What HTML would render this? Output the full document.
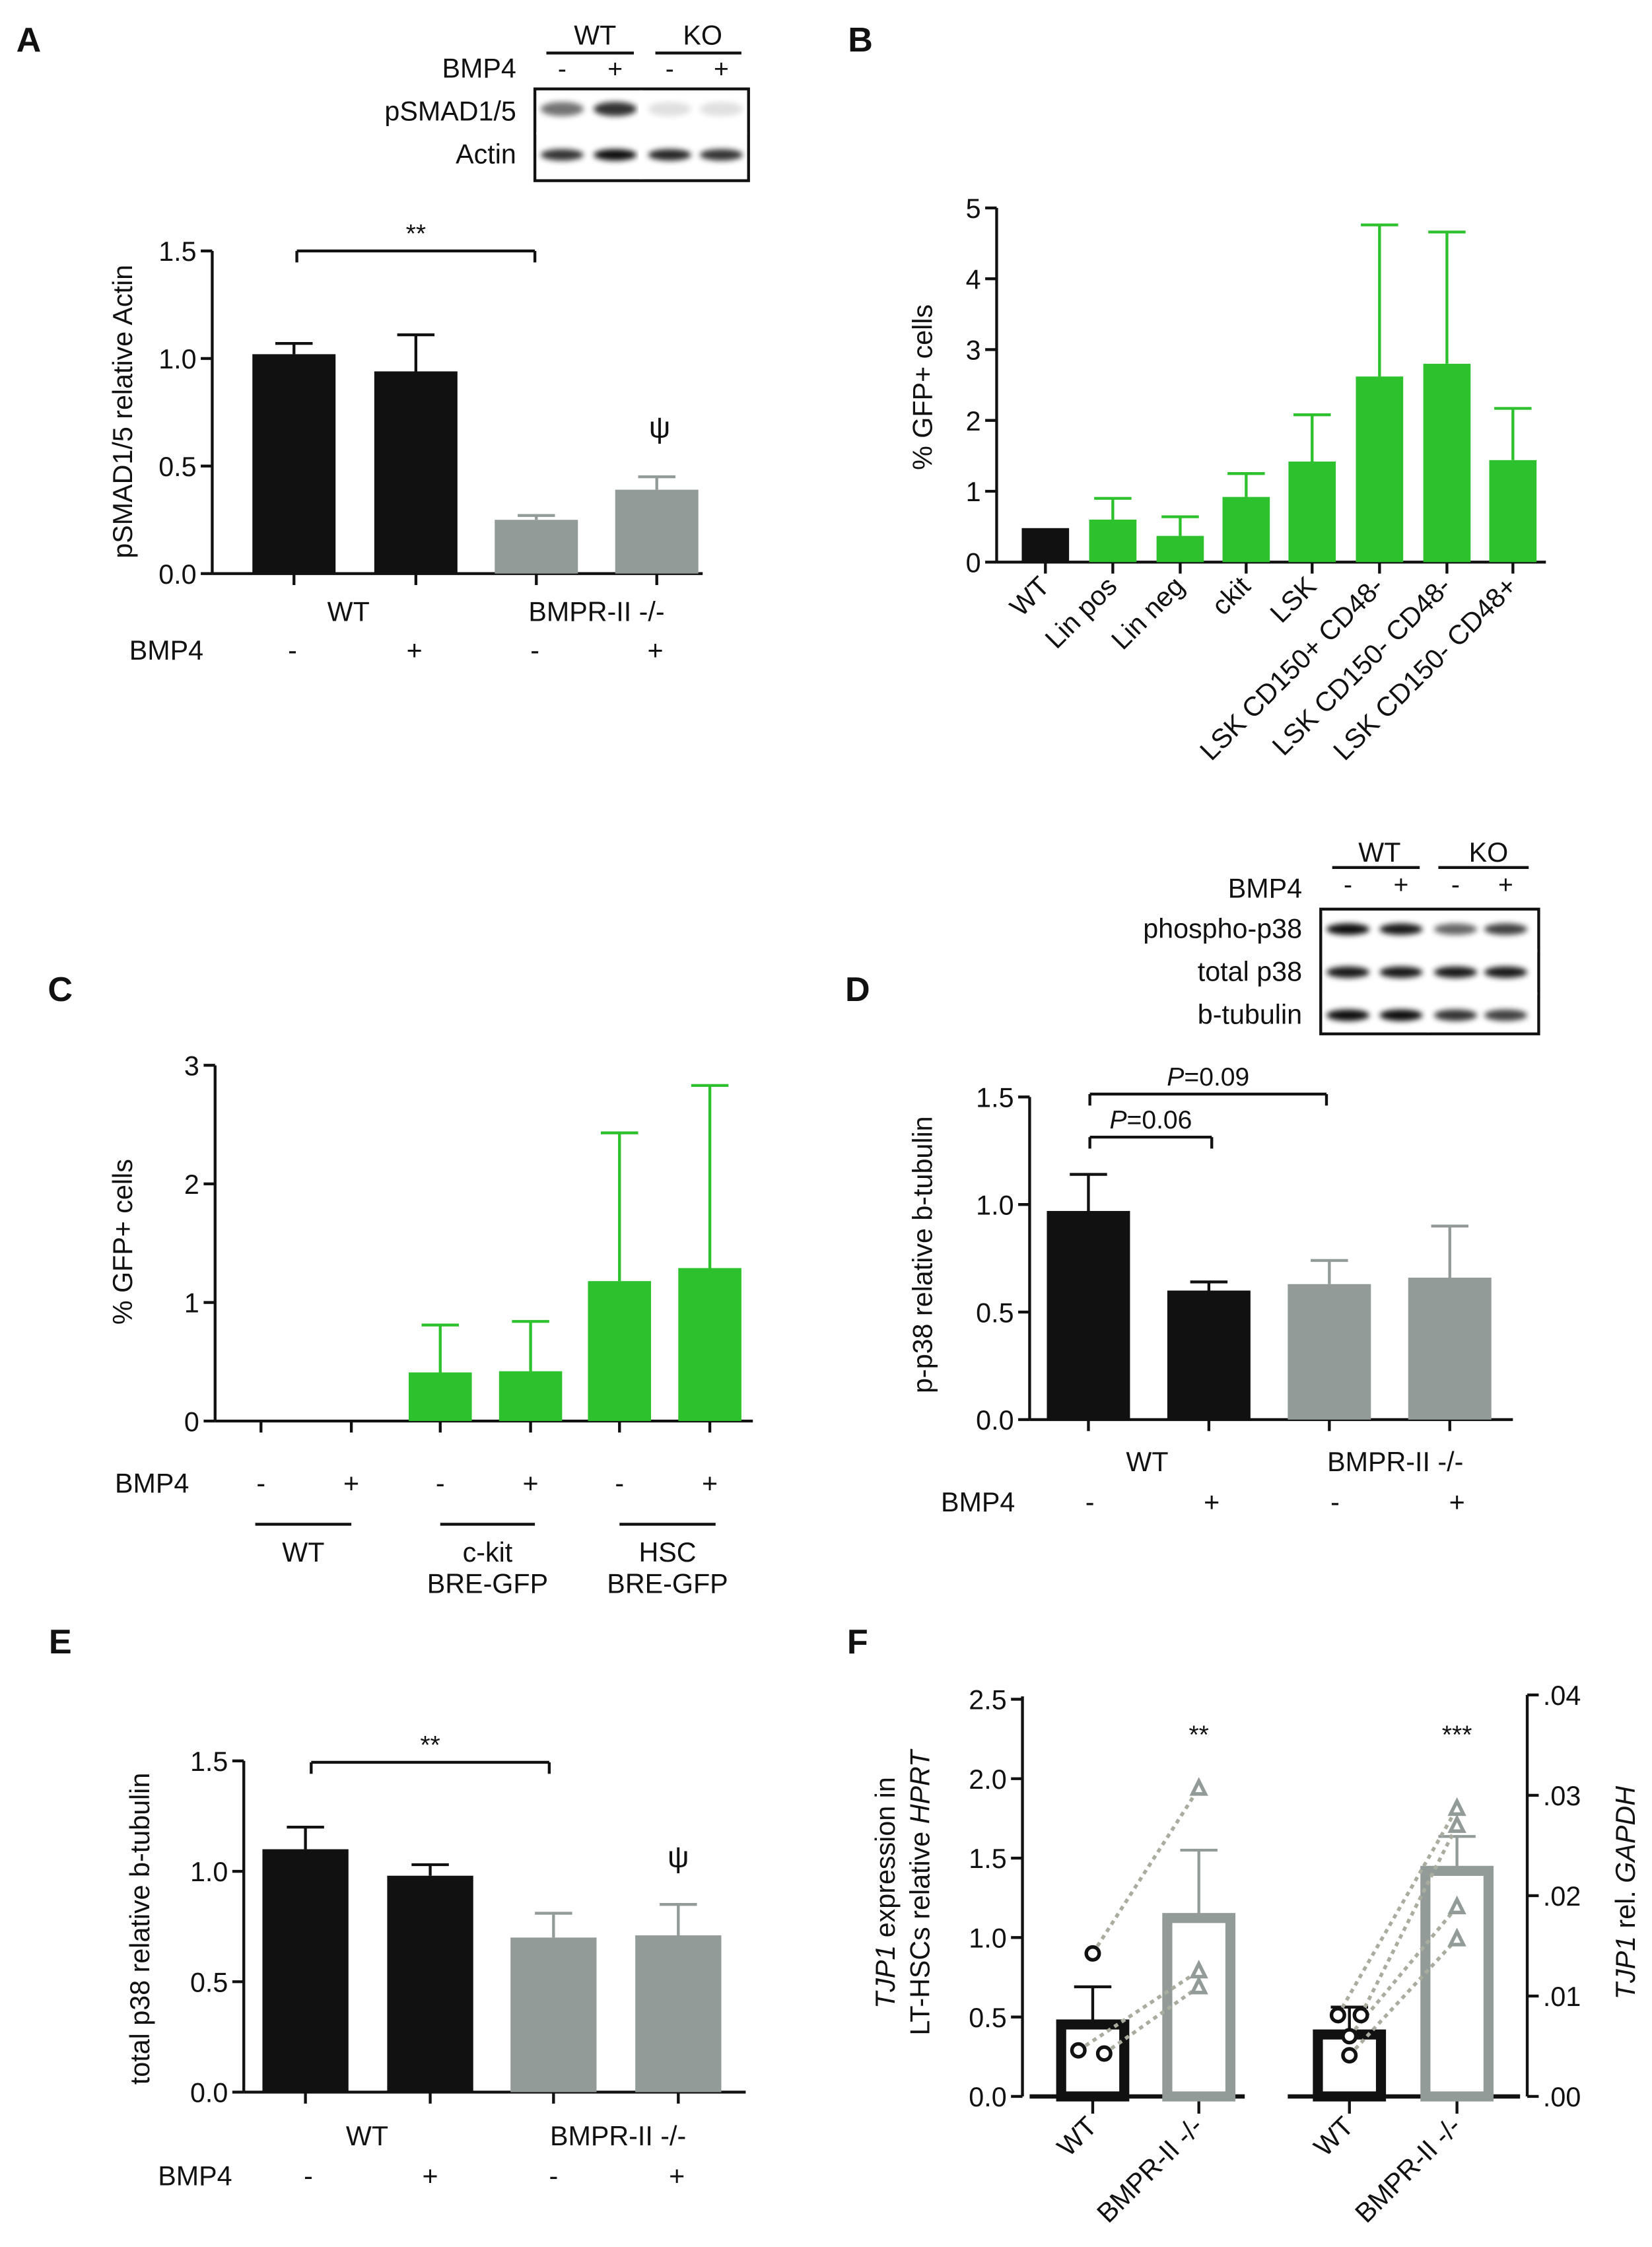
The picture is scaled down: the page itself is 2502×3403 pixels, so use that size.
<!DOCTYPE html>
<html><head><meta charset="utf-8"><style>
html,body{margin:0;padding:0;background:#fff}
svg{display:block}
text{font-family:"Liberation Sans Narrow","Liberation Sans",sans-serif;fill:#111}
</style></head><body>
<svg id="fig" width="2502" height="3403" viewBox="0 0 1152 1567" preserveAspectRatio="none" xmlns="http://www.w3.org/2000/svg">
<defs><filter id="blur" x="-50%" y="-50%" width="200%" height="200%"><feGaussianBlur stdDeviation="2"/></filter></defs>
</svg>
<script>
// ---- data ----
const aCats=["WT -","WT +","KO -","KO +"];
const aVals=[1.02,0.94,0.25,0.39];
const aErr=[1.07,1.11,0.27,0.45];
const aTicks=[0,0.5,1.0,1.5];
const bCats=["WT","Lin pos","Lin neg","ckit","LSK","LSK CD150+ CD48-","LSK CD150- CD48-","LSK CD150- CD48+"];
const bVals=[0.48,0.6,0.37,0.92,1.42,2.62,2.8,1.44];
const bErr=[0.48,0.9,0.64,1.25,2.08,4.76,4.66,2.17];
const bTicks=[0,1,2,3,4,5];
const cVals=[0,0,0.41,0.42,1.18,1.29];
const cErr=[0,0,0.81,0.84,2.43,2.83];
const cTicks=[0,1,2,3];
const dVals=[0.97,0.6,0.63,0.66];
const dErr=[1.14,0.64,0.74,0.9];
const dTicks=[0,0.5,1.0,1.5];
const eVals=[1.1,0.98,0.7,0.71];
const eErr=[1.2,1.03,0.81,0.85];
const eTicks=[0,0.5,1.0,1.5];
const fLeftTicks=[0,0.5,1.0,1.5,2.0,2.5];
const fRightTicks=[0,0.01,0.02,0.03,0.04];
const fRightLabels=[".00",".01",".02",".03",".04"];
const fHprtBars=[0.48,1.15];
const fHprtErr=[0.69,1.55];
const fHprtWT=[0.9,0.29,0.27];
const fHprtKO=[1.94,0.79,0.69];
const fGapdhBars=[0.0066,0.0229];
const fGapdhErr=[0.0089,0.0259];
const fGapdhWT=[0.0081,0.0081,0.006,0.0041];
const fGapdhKO=[0.0287,0.027,0.0189,0.0157];

const svg=document.getElementById('fig');
const NS="http://www.w3.org/2000/svg";
function el(tag,attrs,parent){const e=document.createElementNS(NS,tag);for(const k in attrs)e.setAttribute(k,attrs[k]);(parent||svg).appendChild(e);return e;}
function txt(x,y,s,size,anchor,parent,extra){const t=el('text',Object.assign({x:x,y:y,'font-size':size||18,'text-anchor':anchor||'middle'},extra||{}),parent);t.textContent=s;return t;}
function line(x1,y1,x2,y2,w,col,parent){return el('line',{x1,y1,x2,y2,stroke:col||'#111','stroke-width':w||2},parent);}
const BLACK='#111',GRAY='#939b98',GREEN='#2dc22d';

function yAxis(g,x,y0,y1,ticks,scale,fmt,labelSide){
  line(x,y0,x,y1,2,BLACK,g);
  ticks.forEach((t,i)=>{const y=scale(t);
    if(labelSide==='right'){line(x,y,x+8,y,2,BLACK,g);txt(x+11,y+7,fmt(t,i),19,'start',g);}
    else{line(x-8,y,x,y,2,BLACK,g);txt(x-11,y+7,fmt(t,i),19,'end',g);}
  });
}
function bar(g,cx,w,v,e,scale,col,name){
  const y0=scale(0),y=scale(v);
  if(e>v){line(cx,y,cx,scale(e),2,col,g);line(cx-13,scale(e),cx+13,scale(e),2,col,g);}
  const r=el('rect',{x:cx-w/2,y:y,width:w,height:Math.max(0,y0-y),fill:col},g);
  
  
}
function group(name){const g=el('g',{});return g;}
function panelLabel(x,y,s){const t=txt(x,y,s,24,'middle',svg,{'font-weight':'bold',fill:'#555'});}
function rotText(x,y,s,g,name,size){const t=txt(x,y,s,size||19,'middle',g,{transform:`rotate(-90 ${x} ${y})`});return t;}
function bracket(g,x1,x2,y,label,italic){line(x1,y+8,x1,y,2,BLACK,g);line(x1,y,x2,y,2,BLACK,g);line(x2,y,x2,y+8,2,BLACK,g);
  const t=txt((x1+x2)/2,y-6,label,18,'middle',g);if(italic){t.textContent='';const a=el('tspan',{'font-style':'italic'},t);a.textContent='P';const b=el('tspan',{},t);b.textContent=label.slice(1);}}
function blot(g,x0,y0,w,h,rows,lanes){
  el('rect',{x:x0,y:y0,width:w,height:h,fill:'#fff',stroke:BLACK,'stroke-width':2},g);
  rows.forEach(r=>{lanes.forEach((lx,i)=>{const inten=r.int[i];
    el('ellipse',{cx:lx,cy:r.y,rx:15,ry:r.ry||4,fill:`rgba(0,0,0,${inten})`,filter:'url(#blur)'},g);});});
}

// ===== Panel A =====
panelLabel(20,36,'A');
(function(){
 const g=group('panel-a-chart');
 const sc=v=>400-v*150;
 const cx=[205,290,374,458];
 yAxis(g,148,400,175,aTicks,sc,t=>t.toFixed(1));
 line(148,400,490,400,2,BLACK,g);
 cx.forEach(x=>line(x,400,x,408,2,BLACK,g));
 aVals.forEach((v,i)=>bar(g,cx[i],58,v,aErr[i],sc,i<2?BLACK:GRAY,'bar-a-'+i));
 bracket(g,207,373,175,'**');
 txt(460,305,'ψ',21,'middle',g);
 txt(243,433,'WT',19,'middle',g);txt(416,433,'BMPR-II -/-',19,'middle',g);
 txt(116,460,'BMP4',19,'middle',g);
 ['-','+','-','+'].forEach((s,i)=>txt(cx[i]-1,460,s,19,'middle',g));
 rotText(92,287,'pSMAD1/5 relative Actin',g,'y-axis-title-a');
 const b=group('blot-a');
 txt(360,54,'BMP4',19,'end',b);txt(360,84,'pSMAD1/5',19,'end',b);txt(360,114,'Actin',19,'end',b);
 txt(415,31,'WT',19,'middle',b);line(381,37,442,37,2,BLACK,b);
 txt(490,31,'KO',19,'middle',b);line(457,37,517,37,2,BLACK,b);
 [392,429,467,503].forEach((x,i)=>txt(x,54,i%2?'+':'-',18,'middle',b));
 blot(b,373,62,149,64,[{y:76,ry:5,int:[0.55,0.8,0.12,0.12]},{y:108,ry:4,int:[0.8,0.95,0.85,0.8]}],[392,429,467,503]);
 line(447,63,447,125,3,'#fff',b);line(374,93,521,93,2,'#fff',b);
})();

// ===== Panel B =====
panelLabel(600,36,'B');
(function(){
 const g=group('panel-b-chart');
 const sc=v=>392-v*49.4;
 const cx=[729,776,823,869,915,962,1009,1055];
 yAxis(g,695,392,145,bTicks,sc,t=>String(t));
 line(695,392,1078,392,2,BLACK,g);
 cx.forEach(x=>line(x,392,x,400,2,BLACK,g));
 bVals.forEach((v,i)=>bar(g,cx[i],33,v,bErr[i],sc,i===0?BLACK:GREEN,'bar-b-'+i));
 bCats.forEach((c,i)=>{txt(cx[i]+4,410,c,19,'end',g,{transform:`rotate(-45 ${cx[i]+4} 410)`});});
 rotText(650,270,'% GFP+ cells',g,'y-axis-title-b');
})();

// ===== Panel C =====
panelLabel(42,698,'C');
(function(){
 const g=group('panel-c-chart');
 const sc=v=>991-v*82.7;
 const cx=[182,245,307,370,432,495];
 yAxis(g,150,991,743,cTicks,sc,t=>String(t));
 line(150,991,525,991,2,BLACK,g);
 cx.forEach(x=>line(x,991,x,999,2,BLACK,g));
 cVals.forEach((v,i)=>bar(g,cx[i],44,v,cErr[i],sc,GREEN,'bar-c-'+i));
 txt(106,1041,'BMP4',19,'middle',g);
 cx.forEach((x,i)=>txt(x,1041,i%2?'+':'-',19,'middle',g));
 [[178,245,'WT',null],[307,373,'c-kit','BRE-GFP'],[432,499,'HSC','BRE-GFP']].forEach(a=>{line(a[0],1063,a[1],1063,2,BLACK,g);txt((a[0]+a[1])/2,1089,a[2],19,'middle',g);if(a[3])txt((a[0]+a[1])/2,1111,a[3],19,'middle',g);});
 rotText(92,866,'% GFP+ cells',g,'y-axis-title-c');
})();

// ===== Panel D =====
panelLabel(598,698,'D');
(function(){
 const g=group('panel-d-chart');
 const sc=v=>990-v*150;
 const cx=[759,843,927,1011];
 yAxis(g,718,990,765,dTicks,sc,t=>t.toFixed(1));
 line(718,990,1055,990,2,BLACK,g);
 cx.forEach(x=>line(x,990,x,998,2,BLACK,g));
 dVals.forEach((v,i)=>bar(g,cx[i],58,v,dErr[i],sc,i<2?BLACK:GRAY,'bar-d-'+i));
 bracket(g,760,845,793,'P=0.06',true);
 bracket(g,760,925,763,'P=0.09',true);
 txt(800,1026,'WT',19,'middle',g);txt(973,1026,'BMPR-II -/-',19,'middle',g);
 txt(682,1054,'BMP4',19,'middle',g);
 [760,845,931,1016].forEach((x,i)=>txt(x,1054,i%2?'+':'-',19,'middle',g));
 rotText(650,875,'p-p38 relative b-tubulin',g,'y-axis-title-d');
 const b=group('blot-d');
 txt(908,626,'BMP4',19,'end',b);txt(908,654,'phospho-p38',19,'end',b);txt(908,684,'total p38',19,'end',b);txt(908,714,'b-tubulin',19,'end',b);
 txt(962,601,'WT',19,'middle',b);line(929,605,990,605,2,BLACK,b);
 txt(1038,601,'KO',19,'middle',b);line(1003,605,1066,605,2,BLACK,b);
 [940,977,1015,1050].forEach((x,i)=>txt(x,623,i%2?'+':'-',18,'middle',b));
 blot(b,921,634,152,87,[{y:648,int:[0.95,0.9,0.6,0.75]},{y:678,int:[0.9,0.9,0.9,0.9]},{y:708,int:[0.95,0.95,0.8,0.75]}],[940,977,1015,1050]);
 line(996,635,996,720,2,'#fff',b);line(922,663,1072,663,2,'#fff',b);line(922,693,1072,693,2,'#fff',b);
})();

// ===== Panel E =====
panelLabel(42,1153,'E');
(function(){
 const g=group('panel-e-chart');
 const sc=v=>1459-v*154;
 const cx=[213,300,386,473];
 yAxis(g,170,1459,1228,eTicks,sc,t=>t.toFixed(1));
 line(170,1459,520,1459,2,BLACK,g);
 cx.forEach(x=>line(x,1459,x,1467,2,BLACK,g));
 eVals.forEach((v,i)=>bar(g,cx[i],60,v,eErr[i],sc,i<2?BLACK:GRAY,'bar-e-'+i));
 bracket(g,217,383,1229,'**');
 txt(473,1302,'ψ',21,'middle',g);
 txt(256,1496,'WT',19,'middle',g);txt(431,1496,'BMPR-II -/-',19,'middle',g);
 txt(136,1524,'BMP4',19,'middle',g);
 [215,300,386,472].forEach((x,i)=>txt(x,1524,i%2?'+':'-',19,'middle',g));
 rotText(104,1345,'total p38 relative b-tubulin',g,'y-axis-title-e');
})();

// ===== Panel F =====
panelLabel(598,1153,'F');
(function(){
 const g=group('panel-f-chart');
 const sl=v=>1462-v*110.8;
 const sr=v=>1462-v*7000;
 yAxis(g,713,1462,1183,fLeftTicks,sl,t=>t.toFixed(1));
 yAxis(g,1065,1462,1182,fRightTicks,sr,(t,i)=>fRightLabels[i],'right');
 line(718,1462,868,1462,3,BLACK,g);line(898,1462,1060,1462,3,BLACK,g);
 const cxL=[762,836],cxR=[941,1016];
 [...cxL,...cxR].forEach(x=>line(x,1462,x,1474,2,BLACK,g));
 function obar(cx,v,e,sc,col,name){
   const y=sc(v);
   line(cx,y,cx,sc(e),2,col,g);line(cx-13,sc(e),cx+13,sc(e),2,col,g);
   const r=el('rect',{x:cx-22,y:y+3,width:44,height:sc(0)-y-3,fill:'none',stroke:col,'stroke-width':7},g);
   
   
 }
 obar(cxL[0],fHprtBars[0],fHprtErr[0],sl,BLACK,'bar-f-hprt-wt');
 obar(cxL[1],fHprtBars[1],fHprtErr[1],sl,GRAY,'bar-f-hprt-ko');
 obar(cxR[0],fGapdhBars[0],fGapdhErr[0],sr,BLACK,'bar-f-gapdh-wt');
 obar(cxR[1],fGapdhBars[1],fGapdhErr[1],sr,GRAY,'bar-f-gapdh-ko');
 const wtOffL=[0,-10,8], wtOffR=[-8,8,0,0];
 fHprtWT.forEach((v,i)=>el('line',{x1:cxL[0]+wtOffL[i],y1:sl(v),x2:cxL[1],y2:sl(fHprtKO[i]),stroke:'#a8ad9f','stroke-width':2.5,'stroke-dasharray':'3,3'},g));
 fGapdhWT.forEach((v,i)=>el('line',{x1:cxR[0]+wtOffR[i],y1:sr(v),x2:cxR[1],y2:sr(fGapdhKO[i]),stroke:'#a8ad9f','stroke-width':2.5,'stroke-dasharray':'3,3'},g));
 fHprtWT.forEach((v,i)=>{const c=el('circle',{cx:cxL[0]+wtOffL[i],cy:sl(v),r:4.5,fill:'#fff',stroke:BLACK,'stroke-width':2.5},g);});
 fGapdhWT.forEach((v,i)=>{const c=el('circle',{cx:cxR[0]+wtOffR[i],cy:sr(v),r:4.5,fill:'#fff',stroke:BLACK,'stroke-width':2.5},g);});
 function tri(x,y,name){const p=el('polygon',{points:`${x},${y-5} ${x-4.5},${y+4} ${x+4.5},${y+4}`,fill:'#fff',stroke:GRAY,'stroke-width':2.5},g);}
 fHprtKO.forEach(v=>tri(cxL[1],sl(v),'point-f-hprt-ko'));
 fGapdhKO.forEach(v=>tri(cxR[1],sr(v),'point-f-gapdh-ko'));
 txt(836,1216,'**',18,'middle',g);txt(1016,1216,'***',18,'middle',g);
 [[cxL[0],'WT'],[cxL[1],'BMPR-II -/-'],[cxR[0],'WT'],[cxR[1],'BMPR-II -/-']].forEach(a=>{txt(a[0]+4,1484,a[1],19,'end',g,{transform:`rotate(-45 ${a[0]+4} 1484)`});});
 const t1=el('text',{x:624,y:1320,'font-size':19,'text-anchor':'middle',transform:'rotate(-90 624 1320)'},g);
 
 
 const s1=el('tspan',{'font-style':'italic'},t1);s1.textContent='TJP1';const s2=el('tspan',{},t1);s2.textContent=' expression in';
 const t2=el('text',{x:648,y:1320,'font-size':19,'text-anchor':'middle',transform:'rotate(-90 648 1320)'},g);
 const s3=el('tspan',{},t2);s3.textContent='LT-HSCs relative ';const s4=el('tspan',{'font-style':'italic'},t2);s4.textContent='HPRT';
 const t3=el('text',{x:1140,y:1320,'font-size':19,'text-anchor':'middle',transform:'rotate(-90 1140 1320)'},g);
 
 
 const s5=el('tspan',{'font-style':'italic'},t3);s5.textContent='TJP1';const s6=el('tspan',{},t3);s6.textContent=' rel. ';const s7=el('tspan',{'font-style':'italic'},t3);s7.textContent='GAPDH';
})();
</script>
</body></html>
